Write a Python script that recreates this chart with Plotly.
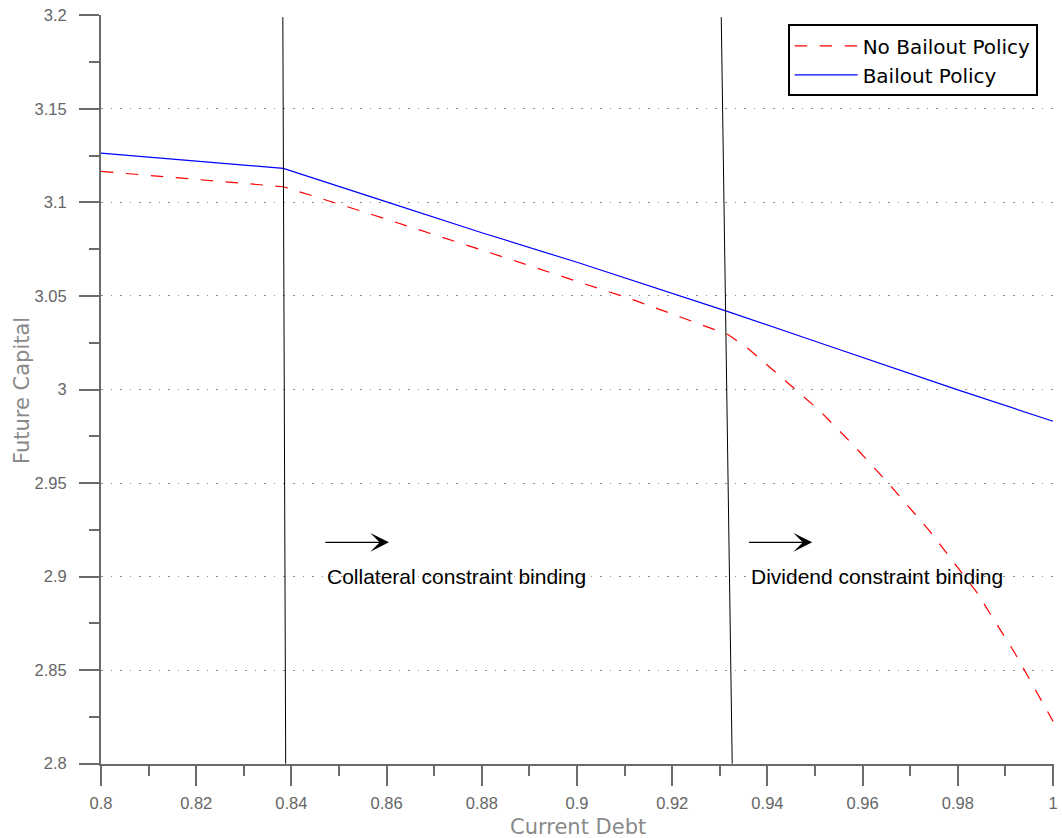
import plotly.graph_objects as go

# ---- data ----
no_bailout_x = [0.800, 0.820, 0.8383, 0.855, 0.871, 0.885, 0.900, 0.912, 0.9317, 0.936,
                0.940, 0.944, 0.948, 0.951, 0.958, 0.965, 0.974, 0.984, 0.992, 1.000]
no_bailout_y = [3.1166, 3.1123, 3.1084, 3.0951, 3.0820, 3.0704, 3.0578, 3.0478, 3.0294, 3.0218,
                3.0130, 3.0040, 2.9950, 2.9886, 2.9704, 2.9510, 2.9246, 2.8915, 2.8590, 2.8226]

bailout_x = [0.800, 0.820, 0.8383, 0.860, 0.880, 0.900, 0.920, 0.9314, 0.950, 0.970, 0.980, 1.000]
bailout_y = [3.1264, 3.1221, 3.1182, 3.1003, 3.0838, 3.0680, 3.0514, 3.0419, 3.0258, 3.0085, 2.9998, 2.9830]

# regime boundary lines (top point, bottom point)
boundary_x_top = [0.8382, 0.9303]
boundary_x_bottom = [0.8388, 0.9326]
boundary_y_top = 3.199
boundary_y_bottom = 2.8

# annotations
arrow_tail_x = [0.8468, 0.9358]
arrow_head_x = [0.8605, 0.9494]
arrow_y = 2.9183
label_x = [0.8470, 0.9362]
label_y = 2.9
label_text = ["Collateral constraint binding", "Dividend constraint binding"]

x_range = [0.8, 1.0002]
y_range = [2.7998, 3.2002]
x_ticks = [0.8, 0.82, 0.84, 0.86, 0.88, 0.9, 0.92, 0.94, 0.96, 0.98, 1.0]
x_tick_labels = ["0.8", "0.82", "0.84", "0.86", "0.88", "0.9", "0.92", "0.94", "0.96", "0.98", "1"]
x_minor_ticks = [0.81, 0.83, 0.85, 0.87, 0.89, 0.91, 0.93, 0.95, 0.97, 0.99]
y_ticks = [2.8, 2.85, 2.9, 2.95, 3.0, 3.05, 3.1, 3.15, 3.2]
y_tick_labels = ["2.8", "2.85", "2.9", "2.95", "3", "3.05", "3.1", "3.15", "3.2"]
y_minor_ticks = [2.825, 2.875, 2.925, 2.975, 3.025, 3.075, 3.125, 3.175]

AXIS_GREY = "#6b6b6b"
TICK_FONT = dict(family="Liberation Sans, Arial, sans-serif", size=16.5, color="#666666")
TITLE_FONT = dict(family="DejaVu Sans, sans-serif", size=21, color="#8a8a8a")

fig = go.Figure()

fig.add_trace(go.Scatter(
    x=no_bailout_x, y=no_bailout_y, mode="lines", name="No Bailout Policy",
    line=dict(color="#ff0000", width=1.2, dash="12.5px,12.5px")))
fig.add_trace(go.Scatter(
    x=bailout_x, y=bailout_y, mode="lines", name="Bailout Policy",
    line=dict(color="#0000ff", width=1.2)))

for xt, xb in zip(boundary_x_top, boundary_x_bottom):
    fig.add_trace(go.Scatter(
        x=[xt, xb], y=[boundary_y_top, boundary_y_bottom], mode="lines",
        line=dict(color="black", width=1), showlegend=False, hoverinfo="skip"))

annotations = []
for tx, hx in zip(arrow_tail_x, arrow_head_x):
    annotations.append(dict(
        x=hx, y=arrow_y, ax=tx, ay=arrow_y, xref="x", yref="y", axref="x", ayref="y",
        text="", showarrow=True, arrowhead=3, arrowsize=2.6, arrowwidth=1.2,
        arrowcolor="black", standoff=0, startstandoff=0))
for lx, lt in zip(label_x, label_text):
    annotations.append(dict(
        x=lx, y=label_y, xref="x", yref="y", text=lt, showarrow=False,
        xanchor="left", yanchor="middle",
        font=dict(family="Liberation Sans, Arial, sans-serif", size=21, color="black")))

# axis titles
annotations.append(dict(
    x=0.5, y=-0.0845, xref="paper", yref="paper", text="Current Debt", showarrow=False,
    xanchor="center", yanchor="middle", font=TITLE_FONT))
annotations.append(dict(
    x=-0.0829, y=0.4993, xref="paper", yref="paper", text="Future Capital", showarrow=False,
    xanchor="center", yanchor="middle", textangle=-90, font=TITLE_FONT))

fig.update_layout(
    width=1062, height=838,
    margin=dict(l=101, r=8, t=15, b=74, autoexpand=False),
    paper_bgcolor="white", plot_bgcolor="white",
    annotations=annotations,
    showlegend=True,
    legend=dict(
        x=0.7205, y=0.9876, xanchor="left", yanchor="top",
        bgcolor="white", bordercolor="black", borderwidth=2,
        font=dict(family="DejaVu Sans, sans-serif", size=20, color="black"),
        itemwidth=63, tracegroupgap=0),
)

fig.update_xaxes(
    range=x_range, tickmode="array", tickvals=x_ticks, ticktext=x_tick_labels,
    automargin=False, ticklabeloverflow="allow",
    showline=True, linecolor=AXIS_GREY, linewidth=2,
    ticks="outside", ticklen=20, tickwidth=2, tickcolor=AXIS_GREY,
    tickfont=TICK_FONT, ticklabelstandoff=3,
    minor=dict(tickmode="array", tickvals=x_minor_ticks, ticks="outside", ticklen=10,
               tickwidth=1.5, tickcolor=AXIS_GREY, showgrid=False),
    showgrid=False, zeroline=False,
)
fig.update_yaxes(
    range=y_range, tickmode="array", tickvals=y_ticks, ticktext=y_tick_labels,
    automargin=False, ticklabeloverflow="allow",
    showline=True, linecolor=AXIS_GREY, linewidth=2,
    ticks="outside", ticklen=20, tickwidth=2, tickcolor=AXIS_GREY,
    tickfont=TICK_FONT, ticklabelstandoff=9,
    minor=dict(tickmode="array", tickvals=y_minor_ticks, ticks="outside", ticklen=10,
               tickwidth=1.5, tickcolor=AXIS_GREY, showgrid=False),
    showgrid=True, gridcolor="#8c8c8c", gridwidth=1, griddash="1.5px,8.1px",
    zeroline=False,
)

# remove the browser's default 8px body margin so the figure fills the window
fig.write_html("out.html",
               config={"displayModeBar": False},
               post_script="document.body.style.margin='0';document.body.style.overflow='hidden';")
